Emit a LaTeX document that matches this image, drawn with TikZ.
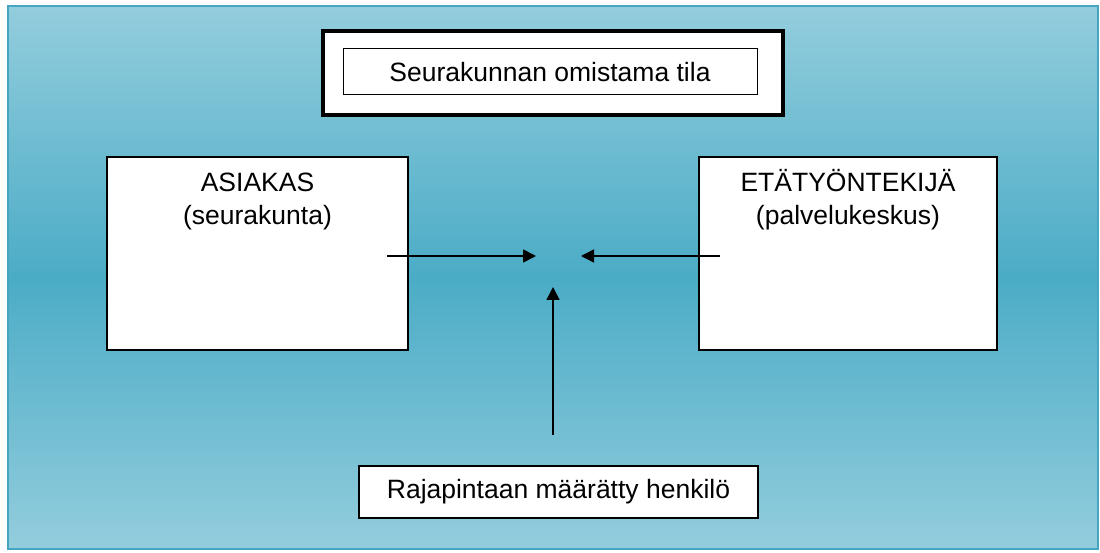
\documentclass[tikz,border=0pt]{standalone}
\usepackage{fontspec}
\setmainfont{Liberation Sans}
\usetikzlibrary{arrows.meta,positioning}

\definecolor{skylight}{RGB}{147,205,221}
\definecolor{skydark}{RGB}{75,172,198}
\definecolor{frameedge}{RGB}{70,165,192}

\tikzset{
  plainbox/.style={draw=black,fill=white,line width=1.3pt,inner sep=0pt},
  textlines/.style={align=center,inner sep=0pt,anchor=north},
  pointer/.style={line width=1.6pt,-{Triangle[length=13pt,width=13pt]}}
}

\begin{document}
\begin{tikzpicture}[x=1pt,y=1pt,font=\fontsize{26.5}{33}\selectfont]
	\useasboundingbox (0,0) rectangle (1100,552);

	% background
	\path[top color=skylight,bottom color=skylight,middle color=skydark]
	  (8,3) rectangle (1098,546);
	\draw[frameedge,line width=2pt] (8,3) rectangle (1098,546);

	% top: owned space
	\node[plainbox,line width=4.5pt,minimum width=460pt,minimum height=84pt]
	  (tila) at (553,479) {};
	\node[plainbox,line width=1pt,minimum width=414pt,minimum height=46pt]
	  (tilateksti) at (550,480) {Seurakunnan omistama tila};

	% side boxes
	\node[plainbox,minimum width=301pt,minimum height=193pt] (asiakas) at (257.5,298.5) {};
	\node[textlines,below=12pt of asiakas.north] (asiakasteksti) {\strut ASIAKAS\\(seurakunta)};
	\node[plainbox,minimum width=298pt,minimum height=193pt] (etatyo) at (848,298.5) {};
	\node[textlines,below=12pt of etatyo.north] (etatyoteksti) {\strut ETÄTYÖNTEKIJÄ\\(palvelukeskus)};

	% bottom box
	\node[plainbox,minimum width=399pt,minimum height=52pt] (henkilo) at (558.5,60)
	  {Rajapintaan määrätty henkilö};

	% arrows
	\coordinate (vasenalku) at (387,296); \coordinate (vasenkarki) at (536,296);
	\coordinate (oikeaalku) at (720,296); \coordinate (oikeakarki) at (581,296);
	\coordinate (alaalku) at (553,117); \coordinate (alakarki) at (553,265);
	\draw[pointer] (vasenalku) -- (vasenkarki);
	\draw[pointer] (oikeaalku) -- (oikeakarki);
	\draw[pointer] (alaalku) -- (alakarki);
\end{tikzpicture}
\end{document}
